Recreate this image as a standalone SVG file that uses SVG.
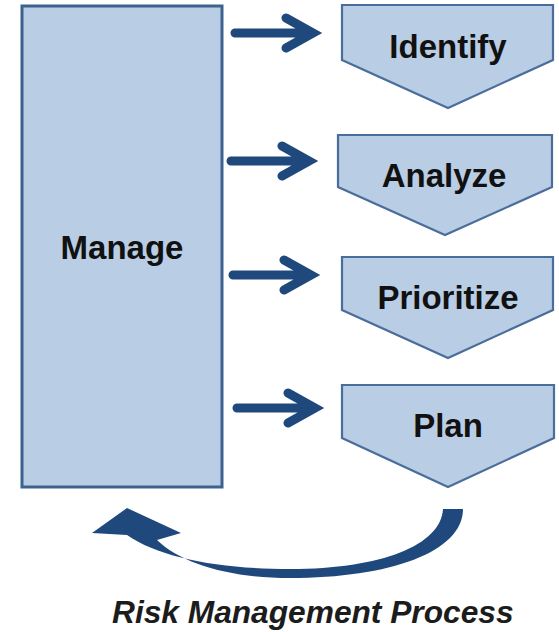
<svg xmlns="http://www.w3.org/2000/svg" xmlns:xlink="http://www.w3.org/1999/xlink" width="559" height="632" viewBox="0 0 559 632">
  <style>
    .box { fill: #b9cde5; stroke: #3d6290; stroke-width: 3; }
    .step { fill: #b9cde5; stroke: #4a6e9b; stroke-width: 2.2; stroke-linejoin: miter; }
    .label { font-family: "Liberation Sans", Arial, sans-serif; font-weight: bold; font-size: 33px; fill: #111; text-anchor: middle; }
    .link { fill: none; stroke: #1f497d; stroke-width: 9; stroke-linecap: round; stroke-linejoin: miter; }
    .loop { fill: #1f497d; }
    .caption { font-family: "Liberation Sans", Arial, sans-serif; font-weight: bold; font-style: italic; font-size: 31.7px; fill: #1c1c1c; }
  </style>
  <defs>
    <!-- straight arrow: shaft plus open chevron head -->
    <path id="rarrow" d="M0 0 H76 M51 -15 L78 0 L51 15"/>
  </defs>

  <rect width="559" height="632" fill="#ffffff"/>

  <g id="manage">
    <rect class="box" x="22" y="6" width="200" height="481"/>
    <text class="label" x="122" y="259">Manage</text>
  </g>

  <g id="identify">
    <path class="step" d="M342 5 H553 V60 L448 108 L342 60 Z"/>
    <text class="label" x="448" y="58">Identify</text>
  </g>

  <g id="analyze">
    <path class="step" d="M338 135 H552 V187 L445 235 L338 187 Z"/>
    <text class="label" x="444" y="187">Analyze</text>
  </g>

  <g id="prioritize">
    <path class="step" d="M342 257 H553 V310 L448 358 L342 310 Z"/>
    <text class="label" x="448" y="309">Prioritize</text>
  </g>

  <g id="plan">
    <path class="step" d="M342 385 H554 V438 L448 487 L342 438 Z"/>
    <text class="label" x="448" y="437">Plan</text>
  </g>

  <g id="connectors">
    <use xlink:href="#rarrow" class="link" transform="translate(235 33)"/>
    <use xlink:href="#rarrow" class="link" transform="translate(231 161)"/>
    <use xlink:href="#rarrow" class="link" transform="translate(233 275)"/>
    <use xlink:href="#rarrow" class="link" transform="translate(237 408)"/>
    <!-- return loop from Plan back to Manage -->
    <path class="loop" d="M463 509 C463 552 390 578 290 578 C230 578 182 564 157 540 L181 533 L127 508 L92 533 L127 535 C160 558 220 569 290 569 C382 569 441 545 443 509 Z"/>
  </g>

  <text class="caption" x="112" y="623">Risk Management Process</text>
</svg>
